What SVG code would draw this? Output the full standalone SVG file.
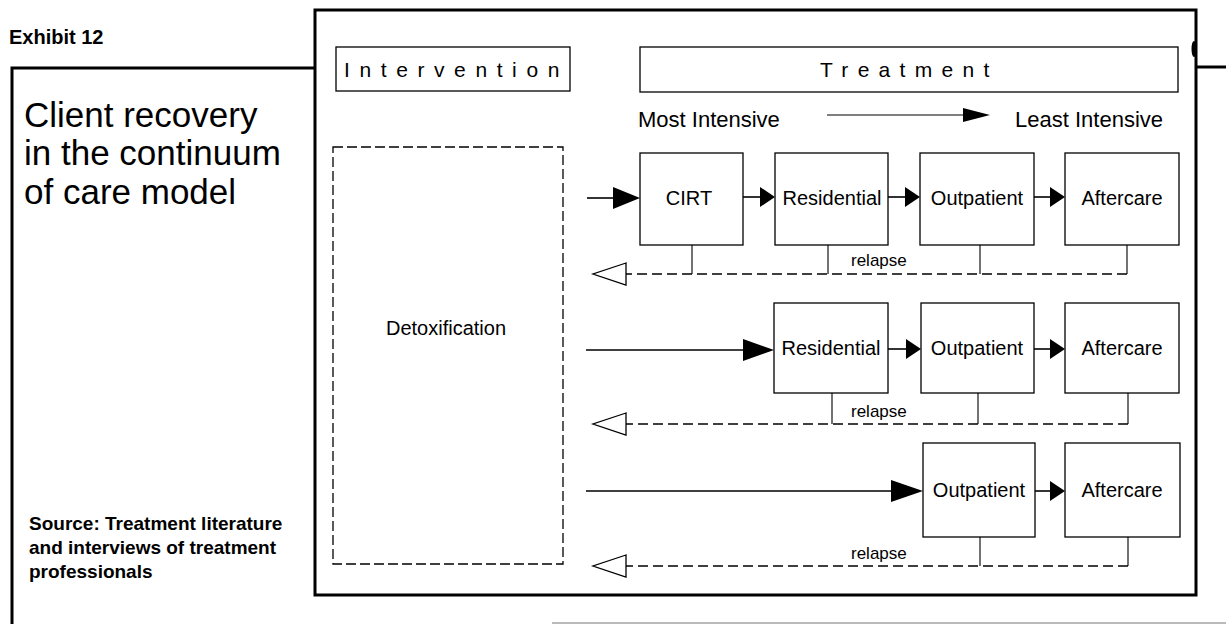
<svg xmlns="http://www.w3.org/2000/svg" width="1226" height="624" viewBox="0 0 1226 624">
<style>
text{font-family:"Liberation Sans",Arial,sans-serif;fill:#000}
.box{fill:#fff;stroke:#000;stroke-width:1.3}
.lbl{font-size:20px;text-anchor:middle}
.rel{font-size:17px}
.solid{stroke:#000;stroke-width:1.6;fill:none}
.thin{stroke:#000;stroke-width:1.1;fill:none}
.dash{stroke:#000;stroke-width:1.4;fill:none;stroke-dasharray:10 5}
.head{fill:#000}
.open{fill:#fff;stroke:#000;stroke-width:1.3}
</style>
<rect width="1226" height="624" fill="#fff"/>
<g id="frame">
<text x="9" y="44" font-size="20" font-weight="bold">Exhibit 12</text>
<path d="M12 624 V68 H315" fill="none" stroke="#000" stroke-width="3"/>
<path d="M1196 67 H1226" fill="none" stroke="#000" stroke-width="3"/>
<path d="M552 623 H1226" fill="none" stroke="#777" stroke-width="1.2"/>
<rect x="315" y="10" width="881" height="585" fill="none" stroke="#000" stroke-width="3"/>
<ellipse cx="1194" cy="49" rx="2.5" ry="8" fill="#000"/>
</g>
<g id="title">
<text x="24" y="127" font-size="35">Client recovery</text>
<text x="24" y="165" font-size="35">in the continuum</text>
<text x="24" y="204" font-size="35">of care model</text>
</g>
<g id="source">
<text x="29" y="530" font-size="19" font-weight="bold">Source: Treatment literature</text>
<text x="29" y="554" font-size="19" font-weight="bold">and interviews of treatment</text>
<text x="29" y="578" font-size="19" font-weight="bold">professionals</text>
</g>
<g id="intervention">
<rect class="box" x="336" y="47" width="234" height="44"/>
<text x="344" y="77" font-size="21" letter-spacing="9.6">Intervention</text>
</g>
<g id="treatment">
<rect class="box" x="640" y="47" width="538" height="45"/>
<text x="820" y="77" font-size="21" letter-spacing="9.3">Treatment</text>
</g>
<g id="intensity">
<text x="638" y="127" font-size="22">Most Intensive</text>
<text x="1163" y="127" font-size="22" text-anchor="end">Least Intensive</text>
</g>
<g id="detox">
<rect x="333" y="147" width="230" height="417" fill="none" stroke="#000" stroke-width="1.3" stroke-dasharray="10 4"/>
<text x="446" y="335" font-size="20" text-anchor="middle">Detoxification</text>
</g>
<g id="r1-cirt"><rect class="box" x="640" y="153" width="103" height="92"/><text class="lbl" x="689" y="205">CIRT</text></g>
<g id="r1-residential"><rect class="box" x="775" y="153" width="113" height="92"/><text class="lbl" x="832" y="205">Residential</text></g>
<g id="r1-outpatient"><rect class="box" x="920" y="153" width="114" height="92"/><text class="lbl" x="977" y="205">Outpatient</text></g>
<g id="r1-aftercare"><rect class="box" x="1065" y="153" width="114" height="92"/><text class="lbl" x="1122" y="205">Aftercare</text></g>
<g id="r2-residential"><rect class="box" x="774" y="303" width="114" height="90"/><text class="lbl" x="831" y="355">Residential</text></g>
<g id="r2-outpatient"><rect class="box" x="921" y="303" width="113" height="90"/><text class="lbl" x="977" y="355">Outpatient</text></g>
<g id="r2-aftercare"><rect class="box" x="1065" y="303" width="114" height="90"/><text class="lbl" x="1122" y="355">Aftercare</text></g>
<g id="r3-outpatient"><rect class="box" x="923" y="443" width="112" height="94"/><text class="lbl" x="979" y="497">Outpatient</text></g>
<g id="r3-aftercare"><rect class="box" x="1065" y="443" width="115" height="94"/><text class="lbl" x="1122" y="497">Aftercare</text></g>
<g id="connectors">
<path class="thin" d="M827 115 H966"/>
<path class="head" d="M963 108 L990 115 L963 122 Z"/>
<path class="solid" d="M587 198 H615"/>
<path class="head" d="M613 187 L640 198 L613 209 Z"/>
<path class="solid" d="M743 197 H762"/>
<path class="head" d="M760 187 L775 197 L760 207 Z"/>
<path class="solid" d="M888 197 H907"/>
<path class="head" d="M905 187 L920 197 L905 207 Z"/>
<path class="solid" d="M1034 197 H1052"/>
<path class="head" d="M1050 187 L1065 197 L1050 207 Z"/>
<path class="thin" d="M692 245 V274 M828 245 V274 M980 245 V274 M1127 245 V274"/>
<path class="dash" d="M1127 274 H626"/>
<path class="open" d="M626 263 L593 274 L626 285 Z"/>
<text class="rel" x="851" y="266">relapse</text>
<path class="solid" d="M586 350 H746"/>
<path class="head" d="M743 339 L774 350 L743 361 Z"/>
<path class="solid" d="M888 349 H908"/>
<path class="head" d="M906 339 L921 349 L906 359 Z"/>
<path class="solid" d="M1034 349 H1052"/>
<path class="head" d="M1050 339 L1065 349 L1050 359 Z"/>
<path class="thin" d="M832 393 V424 M978 393 V424 M1128 393 V424"/>
<path class="dash" d="M1128 424 H626"/>
<path class="open" d="M626 413 L593 424 L626 435 Z"/>
<text class="rel" x="851" y="417">relapse</text>
<path class="solid" d="M586 491 H894"/>
<path class="head" d="M891 480 L923 491 L891 502 Z"/>
<path class="solid" d="M1035 491 H1052"/>
<path class="head" d="M1050 481 L1065 491 L1050 501 Z"/>
<path class="thin" d="M980 537 V566 M1128 537 V566"/>
<path class="dash" d="M1128 566 H626"/>
<path class="open" d="M626 555 L593 566 L626 577 Z"/>
<text class="rel" x="851" y="559">relapse</text>
</g>
</svg>
